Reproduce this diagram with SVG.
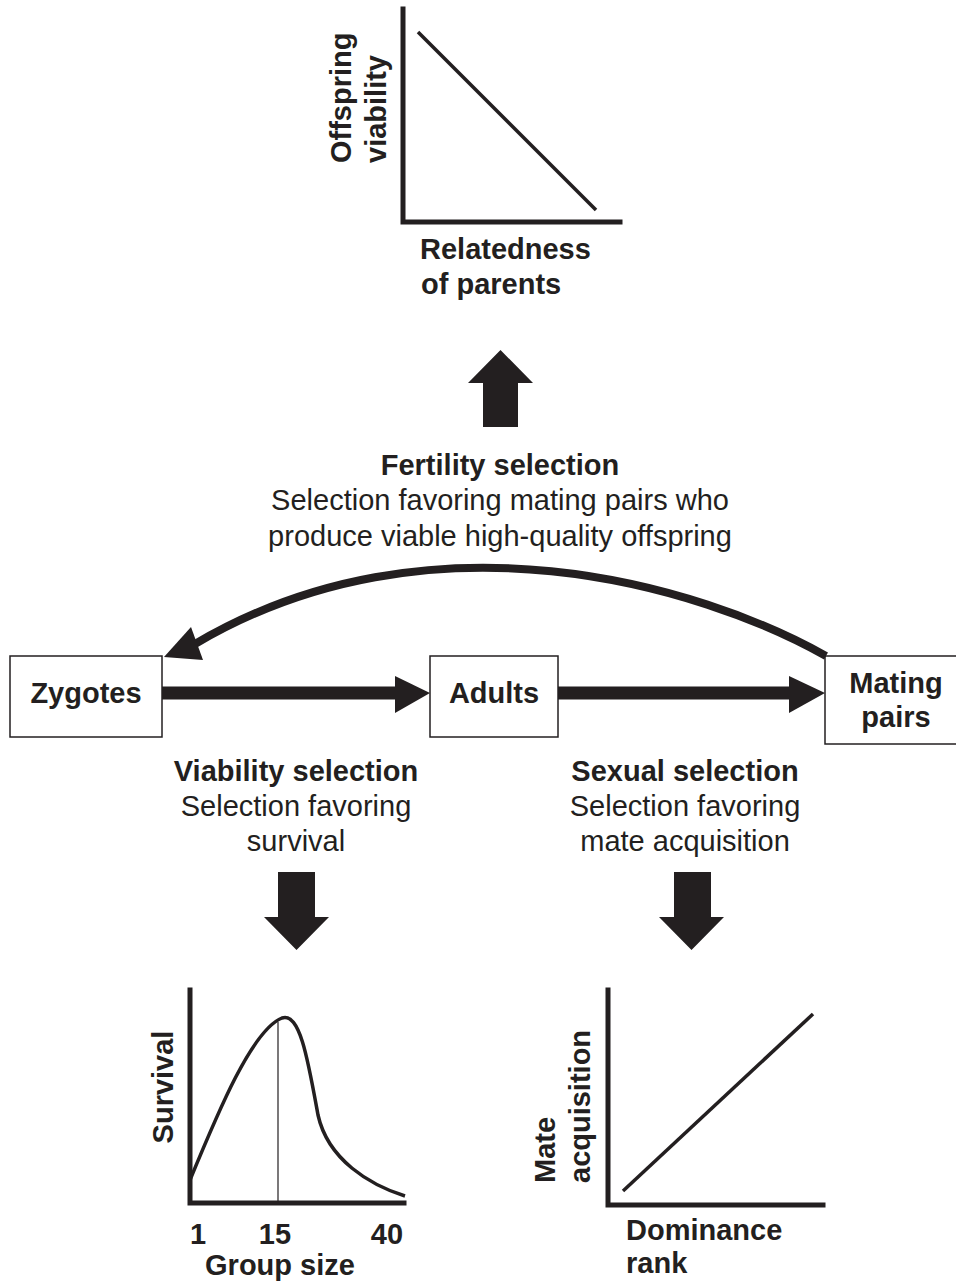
<svg xmlns="http://www.w3.org/2000/svg" width="956" height="1284" viewBox="0 0 956 1284">
<style>
text{font-family:"Liberation Sans",Arial,Helvetica,sans-serif;font-size:29px;fill:#231f20}
.b{font-weight:bold}
.c{text-anchor:middle}
.box{fill:#fff;stroke:#231f20;stroke-width:1.5}
.axis{fill:none;stroke:#231f20;stroke-width:5;stroke-linecap:square}
.plot{fill:none;stroke:#231f20;stroke-width:3.5}
.big{fill:#231f20}
</style>
<rect width="956" height="1284" fill="#fff"/>

<g id="chart-top">
  <path class="axis" d="M403,9 V222 H620"/>
  <line class="plot" x1="418" y1="32" x2="596" y2="210"/>
  <text class="b" transform="translate(351,163) rotate(-90)">Offspring</text>
  <text class="b" transform="translate(386,163) rotate(-90)">viability</text>
  <text class="b" x="420" y="259">Relatedness</text>
  <text class="b" x="421" y="294">of parents</text>
</g>

<g id="fertility-label">
  <text class="b c" x="500" y="475">Fertility selection</text>
  <text class="c" x="500" y="510">Selection favoring mating pairs who</text>
  <text class="c" x="500" y="546">produce viable high-quality offspring</text>
</g>

<g id="zygotes">
  <rect class="box" x="10" y="656" width="152" height="81"/>
  <text class="b c" x="86" y="703">Zygotes</text>
</g>
<g id="adults">
  <rect class="box" x="430" y="656" width="128" height="81"/>
  <text class="b c" x="494" y="703">Adults</text>
</g>
<g id="mating-pairs">
  <rect class="box" x="825" y="656" width="140" height="88"/>
  <text class="b c" x="896" y="693">Mating</text>
  <text class="b c" x="896" y="727">pairs</text>
</g>

<g id="connectors">
  <line x1="162" y1="693" x2="397" y2="693" stroke="#231f20" stroke-width="13"/>
  <polygon class="big" points="395,676 430,693 395,713"/>
  <line x1="558" y1="693" x2="791" y2="693" stroke="#231f20" stroke-width="13"/>
  <polygon class="big" points="789,676 825,693 789,713"/>
  <path d="M826,656 C700,585 430,505 195,644" fill="none" stroke="#231f20" stroke-width="8"/>
  <polygon class="big" points="164,657 191,627 203,660"/>
  <polygon class="big" points="483,427 518,427 518,383 533,383 500.5,350 468,383 483,383"/>
  <polygon class="big" points="278,872 315,872 315,917 329,917 296.5,950 264,917 278,917"/>
  <polygon class="big" points="674,872 711,872 711,917 724,917 691.5,950 659,917 674,917"/>
</g>

<g id="viability-label">
  <text class="b c" x="296" y="781">Viability selection</text>
  <text class="c" x="296" y="816">Selection favoring</text>
  <text class="c" x="296" y="851">survival</text>
</g>
<g id="sexual-label">
  <text class="b c" x="685" y="781">Sexual selection</text>
  <text class="c" x="685" y="816">Selection favoring</text>
  <text class="c" x="685" y="851">mate acquisition</text>
</g>

<g id="chart-survival">
  <path class="axis" d="M190,990 V1203 H404"/>
  <line x1="278" y1="1022" x2="278" y2="1203" stroke="#231f20" stroke-width="1.2"/>
  <path class="plot" d="M190,1180 C218,1112 252,1030 282,1018 C300,1012 308,1060 318,1115 C328,1160 370,1185 405,1196"/>
  <text class="b" transform="translate(173,1087) rotate(-90)" text-anchor="middle">Survival</text>
  <text class="b c" x="198" y="1244">1</text>
  <text class="b c" x="275" y="1244">15</text>
  <text class="b c" x="387" y="1244">40</text>
  <text class="b c" x="280" y="1275">Group size</text>
</g>

<g id="chart-mate">
  <path class="axis" d="M608,990 V1205 H823"/>
  <line class="plot" x1="623" y1="1191" x2="813" y2="1014"/>
  <text class="b" transform="translate(555,1183) rotate(-90)">Mate</text>
  <text class="b" transform="translate(590,1183) rotate(-90)">acquisition</text>
  <text class="b" x="626" y="1240">Dominance</text>
  <text class="b" x="626" y="1273">rank</text>
</g>
</svg>
